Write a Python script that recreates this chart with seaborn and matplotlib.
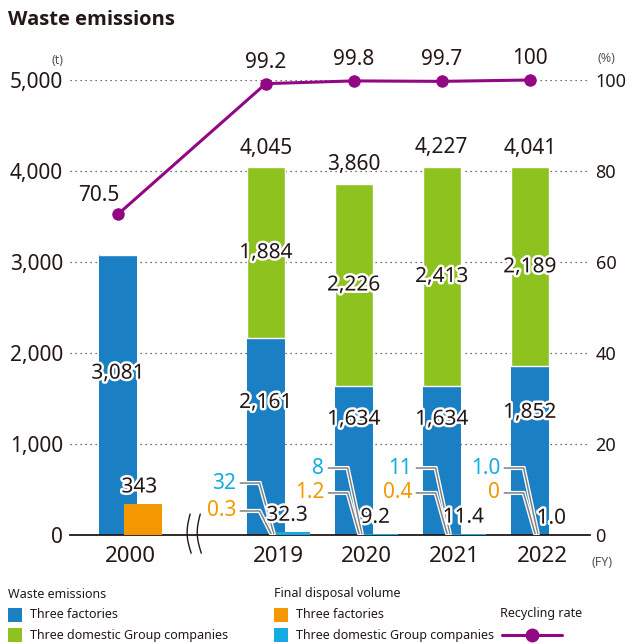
import numpy as np
import matplotlib
matplotlib.use('Agg')
import matplotlib.pyplot as plt
import matplotlib.patheffects as pe
from matplotlib.patches import Rectangle
from matplotlib.lines import Line2D
import seaborn as sns

# data
years = ['2000', '2019', '2020', '2021', '2022']
emis_factories = [3081, 2161, 1634, 1634, 1852]
emis_group = [0, 1884, 2226, 2413, 2189]
emis_totals = [None, 4045, 3860, 4227, 4041]
disp_factories = [343, 0.3, 1.2, 0.4, 0]
disp_group = [0, 32, 8, 11, 1.0]
disp_totals = [343, 32.3, 9.2, 11.4, 1.0]
disp_factories_txt = ['', '0.3', '1.2', '0.4', '0']
disp_group_txt = ['', '32', '8', '11', '1.0']
disp_totals_txt = ['343', '32.3', '9.2', '11.4', '1.0']
recycling = [70.5, 99.2, 99.8, 99.7, 100]

BLUE = '#1b7fc4'
GREEN = '#8dc21f'
ORANGE = '#f39800'
LBLUE = '#16aae3'
PURPLE = '#920783'
DARK = '#231815'

sns.set_style('white')
plt.rcParams['font.family'] = ['Noto Sans', 'DejaVu Sans']

W, H = 628, 644
fig = plt.figure(figsize=(W / 100, H / 100), dpi=100)
ax = fig.add_axes([70 / W, 109 / H, 520 / W, 455 / H])

# x layout: a wider gap after 2000 (broken axis)
idx = np.arange(len(years))
pos = idx + np.where(idx > 0, 0.68, 0.0)
bw = 0.43
off = 0.284
outline = [pe.withStroke(linewidth=3.5, foreground='white')]

ax.yaxis.grid(True, linestyle=(0, (1, 3)), color='#444444', lw=0.9)
ax.set_axisbelow(True)

ax.bar(pos, emis_factories, width=bw, color=BLUE, lw=0, zorder=2)
ax.bar(pos, emis_group, width=bw, bottom=emis_factories, color=GREEN,
       edgecolor='white', lw=1, zorder=2)
ax.bar(pos + off, disp_factories, width=bw, color=ORANGE, lw=0, zorder=3)
ax.bar(pos + off, disp_group, width=bw, bottom=disp_factories, color=LBLUE,
       lw=0, zorder=3)

ax.set_xlim(-0.545, 5.364)
ax.set_ylim(0, 5000)
ax.set_yticks(np.arange(0, 5001, 1000))
ax.set_yticklabels([f'{v:,}' for v in range(0, 5001, 1000)])
ax.set_xticks(pos + off / 2)
ax.set_xticklabels(years)
ax.tick_params(axis='y', length=0, pad=5, labelsize=15, labelcolor=DARK)
ax.tick_params(axis='x', length=0, pad=8, labelsize=16, labelcolor=DARK)
for s in ['left', 'right', 'top']:
    ax.spines[s].set_visible(False)
ax.spines['bottom'].set_color(DARK)
ax.spines['bottom'].set_linewidth(1.3)
# keep the 0 gridline hidden under the axis line
ax.get_ygridlines()[0].set_visible(False)

for i in range(len(years)):
    c = pos[i]
    f = emis_factories[i]
    g = emis_group[i]
    ax.text(c, 0.35 * f + 700, f'{f:,}', ha='center', va='center', fontsize=15,
            color=DARK, path_effects=outline, zorder=5)
    if g:
        ax.text(c, f + g / 2, f'{g:,}', ha='center', va='center', fontsize=15,
                color=DARK, path_effects=outline, zorder=5)
    if emis_totals[i]:
        ax.annotate(f'{emis_totals[i]:,}', (c, f + g), xytext=(0, 6),
                    textcoords='offset points', ha='center', va='bottom',
                    fontsize=15, color=DARK)
    ax.text(c + off - 0.04, disp_totals[i] + 185, disp_totals_txt[i],
            ha='center', va='center', fontsize=15, color=DARK,
            path_effects=outline, zorder=6)

# leader-line labels for small final disposal values
lead_y = {1: (571, 264), 2: (736, 462), 3: (736, 462), 4: (736, 462)}
for i, (yg, yf) in lead_y.items():
    c = pos[i]
    for ytxt, txt, col, end_dx in [(yg, disp_group_txt[i], LBLUE, 0.09),
                                   (yf, disp_factories_txt[i], ORANGE, 0.06)]:
        ax.text(c - 0.335, ytxt, txt, ha='right', va='center', fontsize=15,
                color=col, zorder=6)
        ax.plot([c - 0.29, c - 0.07, c + end_dx], [ytxt, ytxt, 15],
                color='#808080', lw=1.1, zorder=5, solid_joinstyle='miter',
                path_effects=[pe.withStroke(linewidth=3, foreground='white')])

# broken axis marks
t = np.linspace(0, 1, 30)
for x0 in [0.82, 0.935]:
    ax.plot(x0 - 0.04 * np.sin(np.pi * t) + 0.012 * t, 230 - 430 * t,
            color=DARK, lw=1, clip_on=False, zorder=6)

# recycling rate on the right axis
ax2 = ax.twinx()
ax2.set_ylim(0, 100)
ax2.set_yticks(np.arange(0, 101, 20))
ax2.tick_params(axis='y', length=0, pad=4, labelsize=13, labelcolor=DARK)
for s in ax2.spines.values():
    s.set_visible(False)
sns.lineplot(x=pos, y=recycling, ax=ax2, color=PURPLE, lw=2.2, marker='o',
             markersize=9, markeredgewidth=0, clip_on=False, zorder=7)
for i, r in enumerate(recycling):
    txt = f'{r:g}'
    if i == 0:
        ax2.annotate(txt, (pos[i], r), xytext=(1, 6), textcoords='offset points',
                     ha='right', va='bottom', fontsize=15, color=DARK)
    else:
        ax2.annotate(txt, (pos[i], r), xytext=(0, 8), textcoords='offset points',
                     ha='center', va='bottom', fontsize=15, color=DARK)

# unit labels and title
fig.text(8 / W, 1 - 20 / H, 'Waste emissions', fontsize=14.5,
         family=['Open Sans', 'Lato', 'DejaVu Sans'], weight='bold',
         color=DARK, va='center', ha='left')
fig.text(64 / W, 1 - 60 / H, '(t)', fontsize=9, color='#555555', ha='right',
         va='center')
fig.text(597 / W, 1 - 59 / H, '(%)', fontsize=9, color='#555555', ha='left',
         va='center')
fig.text(592 / W, 1 - 562 / H, '(FY)', fontsize=9, color='#555555', ha='left',
         va='center')

# legend block
def legend_text(x, y, s, size=9):
    fig.text(x / W, 1 - y / H, s, fontsize=size, color=DARK, ha='left',
             va='center')

def legend_box(x, y, col):
    fig.add_artist(Rectangle((x / W, 1 - (y + 14) / H), 14 / W, 14 / H,
                             transform=fig.transFigure, color=col, lw=0))

legend_text(8, 594, 'Waste emissions')
legend_box(8, 608, BLUE)
legend_text(30, 615, 'Three factories')
legend_box(8, 628, GREEN)
legend_text(30, 635, 'Three domestic Group companies')
legend_text(274, 594, 'Final disposal volume')
legend_box(274, 608, ORANGE)
legend_text(296, 615, 'Three factories')
legend_box(274, 628, LBLUE)
legend_text(296, 635, 'Three domestic Group companies')
legend_text(500, 613, 'Recycling rate')
fig.add_artist(Line2D([502 / W, 562 / W], [1 - 635 / H, 1 - 635 / H],
                      transform=fig.transFigure, color=PURPLE, lw=2.2))
fig.add_artist(Line2D([532 / W], [1 - 635 / H], transform=fig.transFigure,
                      color=PURPLE, marker='o', markersize=9, lw=0))

fig.savefig('out.png', dpi=100)
